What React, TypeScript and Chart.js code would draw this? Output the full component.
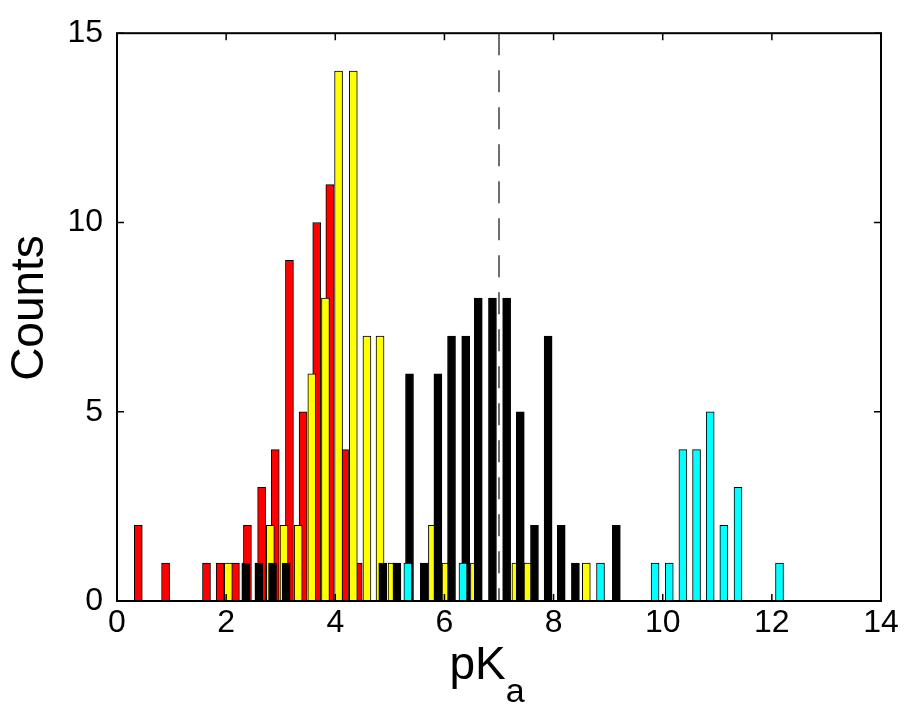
import React, { useEffect, useRef } from "react";
import { Chart, registerables } from "chart.js";

Chart.register(...registerables);

const redX = [0.39, 0.89, 1.64, 1.89, 2.17, 2.39, 2.65, 2.9, 3.16, 3.41, 3.66, 3.9, 4.17, 4.42, 7.44];
const redY = [2, 1, 1, 1, 1, 2, 3, 4, 9, 5, 10, 11, 4, 1, 1];

const yellowX = [2.04, 2.81, 3.06, 3.32, 3.57, 3.82, 4.06, 4.33, 4.58, 4.82, 5.04, 5.78, 6.03, 6.55, 7.31, 7.53, 8.6];
const yellowY = [1, 2, 2, 2, 6, 8, 14, 14, 7, 7, 1, 2, 1, 1, 1, 1, 1];

const blackX = [2.36, 2.6, 2.85, 3.1, 4.87, 5.13, 5.36, 5.63, 5.88, 6.13, 6.39, 6.62, 6.88, 7.14, 7.39, 7.65, 7.9, 8.14, 8.4, 9.15];
const blackY = [1, 1, 1, 1, 1, 1, 6, 1, 6, 7, 7, 8, 8, 8, 5, 2, 7, 2, 1, 2];

const cyanX = [5.33, 6.34, 8.86, 9.86, 10.12, 10.37, 10.62, 10.87, 11.12, 11.38, 12.14];
const cyanY = [1, 1, 1, 1, 1, 4, 4, 5, 2, 3, 1];

const xTicks = [0, 2, 4, 6, 8, 10, 12, 14];
const yTicks = [0, 5, 10, 15];
const thresholdX = 7;

const FONT = "'Liberation Sans', Arial, Helvetica, sans-serif";

const toPoints = (xs: number[], ys: number[]) => xs.map((x, i) => ({ x, y: ys[i] }));

const framePlugin = {
  id: "matlabFrame",
  afterDraw(chart: any) {
    const { ctx, chartArea } = chart;
    const { left, right, top, bottom } = chartArea;
    const xs = chart.scales.x;
    const ys = chart.scales.y;
    ctx.save();
    ctx.strokeStyle = "#000";
    ctx.lineWidth = 2;
    ctx.strokeRect(left, top, right - left, bottom - top);
    ctx.lineWidth = 1.5;
    const tl = 7;
    ctx.beginPath();
    xTicks.forEach((v) => {
      const p = xs.getPixelForValue(v);
      ctx.moveTo(p, bottom);
      ctx.lineTo(p, bottom - tl);
      ctx.moveTo(p, top);
      ctx.lineTo(p, top + tl);
    });
    yTicks.forEach((v) => {
      const p = ys.getPixelForValue(v);
      ctx.moveTo(left, p);
      ctx.lineTo(left + tl, p);
      ctx.moveTo(right, p);
      ctx.lineTo(right - tl, p);
    });
    ctx.stroke();

    // axis titles
    ctx.fillStyle = "#000";
    ctx.textBaseline = "alphabetic";
    ctx.font = `46px ${FONT}`;
    const pk = "pK";
    const pkW = ctx.measureText(pk).width;
    ctx.font = `34px ${FONT}`;
    const aW = ctx.measureText("a").width;
    const cx = 487;
    const startX = cx - (pkW + aW) / 2;
    ctx.font = `46px ${FONT}`;
    ctx.textAlign = "left";
    ctx.fillText(pk, startX, 679);
    ctx.font = `34px ${FONT}`;
    ctx.fillText("a", startX + pkW, 702);

    ctx.translate(30, 308);
    ctx.rotate(-Math.PI / 2);
    ctx.textAlign = "center";
    ctx.textBaseline = "middle";
    ctx.font = `46px ${FONT}`;
    ctx.fillText("Counts", 0, 0);
    ctx.restore();
  },
};

export default function App() {
  const ref = useRef<HTMLCanvasElement | null>(null);

  useEffect(() => {
    if (!ref.current) return;
    const barCommon = {
      type: "bar" as const,
      grouped: false,
      barThickness: 8,
      borderColor: "#000",
      borderWidth: 1,
      borderSkipped: false,
    };
    const chart = new Chart(ref.current, {
      type: "bar",
      data: {
        datasets: [
          {
            type: "line",
            data: [
              { x: thresholdX, y: 15 },
              { x: thresholdX, y: 0 },
            ],
            borderColor: "#6e6e6e",
            borderWidth: 2,
            borderDash: [22, 15],
            pointRadius: 0,
            order: 0,
          } as any,
          { ...barCommon, data: toPoints(cyanX, cyanY), backgroundColor: "#00ffff", order: 1 },
          { ...barCommon, data: toPoints(blackX, blackY), backgroundColor: "#000000", order: 2 },
          { ...barCommon, data: toPoints(yellowX, yellowY), backgroundColor: "#ffff00", order: 3 },
          { ...barCommon, data: toPoints(redX, redY), backgroundColor: "#ff0000", order: 4 },
        ],
      },
      options: {
        animation: false,
        responsive: true,
        maintainAspectRatio: false,
        layout: { padding: { top: 29, right: 25, left: 0, bottom: 0 } },
        plugins: { legend: { display: false }, tooltip: { enabled: false } },
        scales: {
          x: {
            type: "linear",
            min: 0,
            max: 14,
            offset: false,
            grid: { display: false, drawTicks: false, offset: false },
            border: { display: false },
            afterFit: (s: any) => {
              s.height = 109;
            },
            afterBuildTicks: (s: any) => {
              s.ticks = xTicks.map((v) => ({ value: v }));
            },
            ticks: {
              padding: 3,
              color: "#000",
              maxRotation: 0,
              font: { family: FONT, size: 32 },
            },
          },
          y: {
            type: "linear",
            min: 0,
            max: 15,
            grid: { display: false, drawTicks: false },
            border: { display: false },
            afterFit: (s: any) => {
              s.width = 117;
            },
            afterBuildTicks: (s: any) => {
              s.ticks = yTicks.map((v) => ({ value: v }));
            },
            ticks: {
              padding: 14,
              color: "#000",
              font: { family: FONT, size: 32 },
            },
          },
        },
      },
      plugins: [framePlugin],
    } as any);
    return () => chart.destroy();
  }, []);

  return (
    <div style={{ position: "fixed", left: 0, top: 0, width: 906, height: 710, background: "#fff" }}>
      <canvas ref={ref} />
    </div>
  );
}
